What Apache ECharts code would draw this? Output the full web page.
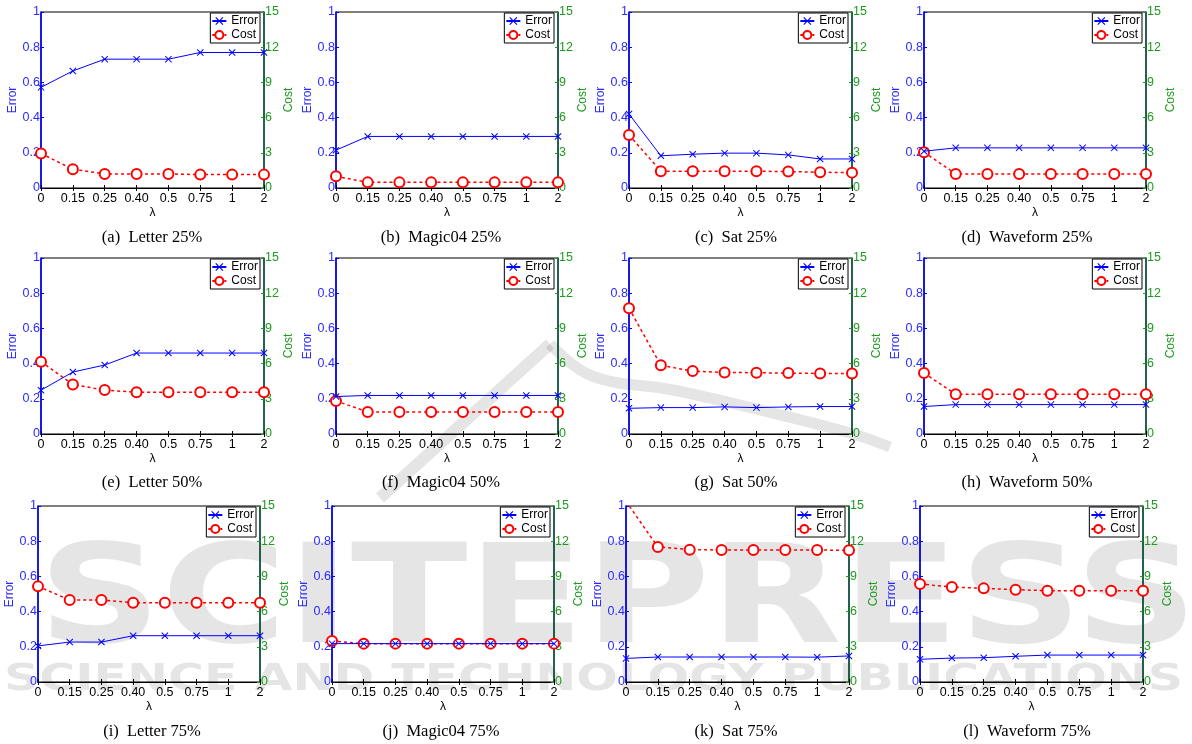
<!DOCTYPE html>
<html>
<head>
<meta charset="utf-8">
<script src="https://cdn.jsdelivr.net/npm/echarts@6/dist/echarts.min.js"></script>
<style>
  html, body { margin: 0; padding: 0; background: #ffffff; }
  #chart { width: 1192px; height: 744px; }
</style>
</head>
<body>
<div id="chart"></div>
<script>
// λ values on every x axis
const lambdaLabels = ['0', '0.15', '0.25', '0.40', '0.5', '0.75', '1', '2'];
const errorTicks = [0, 0.2, 0.4, 0.6, 0.8, 1];
const costTicks = [0, 3, 6, 9, 12, 15];

// Panel captions
const captions = [
  '(a)  Letter 25%', '(b)  Magic04 25%', '(c)  Sat 25%', '(d)  Waveform 25%',
  '(e)  Letter 50%', '(f)  Magic04 50%', '(g)  Sat 50%', '(h)  Waveform 50%',
  '(i)  Letter 75%', '(j)  Magic04 75%', '(k)  Sat 75%', '(l)  Waveform 75%'
];

// Error (left axis) and Cost (right axis) per dataset / labelled fraction
const errorLetter25   = [0.572, 0.665, 0.732, 0.732, 0.732, 0.770, 0.770, 0.770];
const costLetter25    = [2.94, 1.60, 1.20, 1.20, 1.20, 1.14, 1.14, 1.14];
const errorMagic25    = [0.215, 0.293, 0.293, 0.293, 0.293, 0.293, 0.293, 0.293];
const costMagic25     = [1.00, 0.48, 0.48, 0.48, 0.48, 0.48, 0.48, 0.48];
const errorSat25      = [0.420, 0.183, 0.192, 0.198, 0.198, 0.188, 0.165, 0.165];
const costSat25       = [4.51, 1.43, 1.43, 1.43, 1.43, 1.40, 1.34, 1.31];
const errorWave25     = [0.209, 0.228, 0.228, 0.228, 0.228, 0.228, 0.228, 0.228];
const costWave25      = [3.05, 1.20, 1.20, 1.20, 1.20, 1.20, 1.20, 1.20];

const errorLetter50   = [0.249, 0.352, 0.392, 0.460, 0.460, 0.460, 0.460, 0.460];
const costLetter50    = [6.16, 4.22, 3.74, 3.56, 3.56, 3.56, 3.56, 3.56];
const errorMagic50    = [0.213, 0.219, 0.219, 0.219, 0.219, 0.219, 0.219, 0.219];
const costMagic50     = [2.82, 1.88, 1.88, 1.88, 1.88, 1.88, 1.88, 1.88];
const errorSat50      = [0.146, 0.150, 0.150, 0.154, 0.150, 0.154, 0.156, 0.156];
const costSat50       = [10.72, 5.85, 5.36, 5.25, 5.22, 5.19, 5.16, 5.16];
const errorWave50     = [0.156, 0.167, 0.167, 0.167, 0.167, 0.167, 0.167, 0.167];
const costWave50      = [5.19, 3.39, 3.39, 3.39, 3.39, 3.39, 3.39, 3.39];

const errorLetter75   = [0.205, 0.227, 0.227, 0.263, 0.263, 0.263, 0.263, 0.263];
const costLetter75    = [8.15, 6.99, 6.99, 6.76, 6.76, 6.76, 6.76, 6.76];
const errorMagic75    = [0.218, 0.218, 0.218, 0.218, 0.218, 0.218, 0.218, 0.218];
const costMagic75     = [3.49, 3.27, 3.27, 3.27, 3.27, 3.27, 3.27, 3.27];
const errorSat75      = [0.134, 0.142, 0.142, 0.142, 0.142, 0.142, 0.141, 0.148];
const costSat75       = [15.4, 11.51, 11.28, 11.25, 11.25, 11.25, 11.25, 11.22];
const errorWave75     = [0.129, 0.136, 0.138, 0.146, 0.153, 0.153, 0.153, 0.153];
const costWave75      = [8.35, 8.10, 7.98, 7.87, 7.78, 7.78, 7.78, 7.78];

const errorSets = [
  errorLetter25, errorMagic25, errorSat25, errorWave25,
  errorLetter50, errorMagic50, errorSat50, errorWave50,
  errorLetter75, errorMagic75, errorSat75, errorWave75
];
const costSets = [
  costLetter25, costMagic25, costSat25, costWave25,
  costLetter50, costMagic50, costSat50, costWave50,
  costLetter75, costMagic75, costSat75, costWave75
];

// Plot-area boxes (pixels) for the 3 x 4 layout
const rowBoxes = [
  { top: 12,  bottom: 188, lefts: [41, 336, 629, 924], rights: [264, 558, 852, 1146], capY: 238 },
  { top: 258, bottom: 434, lefts: [41, 336, 629, 924], rights: [264, 558, 852, 1146], capY: 483 },
  { top: 506, bottom: 682, lefts: [38, 332, 626, 920], rights: [260, 554, 849, 1143], capY: 732 }
];
const captionX = [152, 441, 736, 1027];

const W = 1192;
const SANS = '"Liberation Sans", Arial, Helvetica, sans-serif';
const SERIF = '"Liberation Serif", "Times New Roman", serif';
const BLUE = '#0000ff';
const BLUE_TEXT = '#2b2bff';
const GREEN_TEXT = '#1f9a1f';
const GREEN_AXIS = '#0c5a40';
const RED = '#ff0000';
const MARK_GRAY = 'rgba(0,0,0,0.10)';
const TICK_FONT = 12.5;
const NAME_FONT = 12;
const crossPath = 'path://M0,1L1,0L5,4L9,0L10,1L6,5L10,9L9,10L5,6L1,10L0,9L4,5Z';

const grids = [], xAxes = [], yAxes = [], series = [], legends = [], graphics = [];

function fmt(v) { return String(Math.round(v * 10) / 10); }

for (let i = 0; i < 12; i++) {
  const row = rowBoxes[Math.floor(i / 4)];
  const col = i % 4;
  const L = row.lefts[col], R = row.rights[col];
  grids.push({
    left: L, top: row.top, width: R - L, height: row.bottom - row.top,
    show: true, borderColor: '#000', borderWidth: 1, backgroundColor: 'transparent'
  });
  // bottom axis with λ labels
  xAxes.push({
    type: 'category', gridIndex: i, data: lambdaLabels, boundaryGap: false,
    axisLine: { lineStyle: { color: '#000', width: 1 } },
    axisTick: { inside: true, length: 3, lineStyle: { color: '#000' } },
    axisLabel: { color: '#000', fontSize: TICK_FONT, fontFamily: SANS, margin: 4 },
    splitLine: { show: false },
    name: 'λ', nameLocation: 'middle', nameGap: 19,
    nameTextStyle: { color: '#000', fontSize: NAME_FONT, fontFamily: SANS }
  });
  // top box edge with ticks
  xAxes.push({
    type: 'category', gridIndex: i, data: lambdaLabels, boundaryGap: false, position: 'top',
    axisLine: { lineStyle: { color: '#000', width: 1 } },
    axisTick: { inside: true, length: 3, lineStyle: { color: '#000' } },
    axisLabel: { show: false }, splitLine: { show: false }
  });
  yAxes.push({
    type: 'value', gridIndex: i, position: 'left',
    min: errorTicks[0], max: errorTicks[errorTicks.length - 1], interval: errorTicks[1] - errorTicks[0],
    axisLine: { show: true, lineStyle: { color: BLUE, width: 1.6 } },
    axisTick: { show: true, inside: true, length: 3, lineStyle: { color: BLUE } },
    axisLabel: { color: BLUE_TEXT, fontSize: TICK_FONT, fontFamily: SANS, margin: 1, formatter: fmt },
    splitLine: { show: false },
    name: 'Error', nameLocation: 'middle', nameGap: 21, nameRotate: 90,
    nameTextStyle: { color: BLUE_TEXT, fontSize: NAME_FONT, fontFamily: SANS }
  });
  yAxes.push({
    type: 'value', gridIndex: i, position: 'right',
    min: costTicks[0], max: costTicks[costTicks.length - 1], interval: costTicks[1] - costTicks[0],
    axisLine: { show: true, lineStyle: { color: GREEN_AXIS, width: 1.6 } },
    axisTick: { show: true, inside: true, length: 3, lineStyle: { color: GREEN_TEXT } },
    axisLabel: { color: GREEN_TEXT, fontSize: TICK_FONT, fontFamily: SANS, margin: 1 },
    splitLine: { show: false },
    name: 'Cost', nameLocation: 'middle', nameGap: 14, nameRotate: 90,
    nameTextStyle: { color: GREEN_TEXT, fontSize: NAME_FONT, fontFamily: SANS }
  });
  series.push({
    name: 'Cost', type: 'line', xAxisIndex: 2 * i, yAxisIndex: 2 * i + 1,
    data: costSets[i], clip: true, z: 3,
    symbol: 'emptyCircle', symbolSize: 10,
    itemStyle: { color: RED, borderColor: RED, borderWidth: 1.5 },
    lineStyle: { color: RED, width: 1.5, type: [3, 3] }
  });
  series.push({
    name: 'Error', type: 'line', xAxisIndex: 2 * i, yAxisIndex: 2 * i, data: errorSets[i],
    clip: true, z: 4,
    symbol: crossPath, symbolSize: 7,
    itemStyle: { color: BLUE },
    lineStyle: { color: BLUE, width: 1 }
  });
  legends.push({
    data: ['Error', 'Cost'], orient: 'vertical',
    right: W - R + 4, top: row.top + 1,
    backgroundColor: '#fff', borderColor: '#000', borderWidth: 1,
    padding: [2, 2, 2, 1], itemGap: 2, itemWidth: 14, itemHeight: 10,
    textStyle: { color: '#000', fontSize: NAME_FONT, fontFamily: SANS },
    selectedMode: false
  });
  graphics.push({
    type: 'text', z: 10, silent: true,
    style: {
      text: captions[i], x: captionX[col], y: row.capY,
      textAlign: 'center', textVerticalAlign: 'middle',
      font: '16.5px ' + SERIF, fill: '#000'
    }
  });
}

// faint publisher mark behind the panels
graphics.unshift(
  {
    type: 'polyline', z: -5, silent: true,
    shape: { points: [[380, 498], [550, 344]] },
    style: { stroke: MARK_GRAY, lineWidth: 12, fill: null }
  },
  {
    type: 'polyline', z: -5, silent: true,
    shape: { points: [[550, 344], [592, 376], [673, 390], [760, 410], [850, 433], [890, 447]], smooth: 0.4 },
    style: { stroke: MARK_GRAY, lineWidth: 11, fill: null }
  },
  {
    type: 'text', z: -5, silent: true, scaleX: 1.25, x: 38, y: 606,
    style: {
      text: 'SCITEPRESS', x: 0, y: 0, textAlign: 'left', textVerticalAlign: 'middle',
      font: 'bold 137px "DejaVu Sans", sans-serif', fill: MARK_GRAY
    }
  },
  {
    type: 'text', z: -5, silent: true, scaleX: 1.29, x: 4, y: 680,
    style: {
      text: 'SCIENCE AND TECHNOLOGY PUBLICATIONS', x: 0, y: 0, textAlign: 'left', textVerticalAlign: 'middle',
      font: 'bold 38px "DejaVu Sans", sans-serif', fill: MARK_GRAY
    }
  }
);

const chart = echarts.init(document.getElementById('chart'), null, { renderer: 'canvas' });
chart.setOption({
  animation: false,
  backgroundColor: '#ffffff',
  grid: grids,
  xAxis: xAxes,
  yAxis: yAxes,
  legend: legends,
  series: series,
  graphic: graphics
});
</script>
</body>
</html>
